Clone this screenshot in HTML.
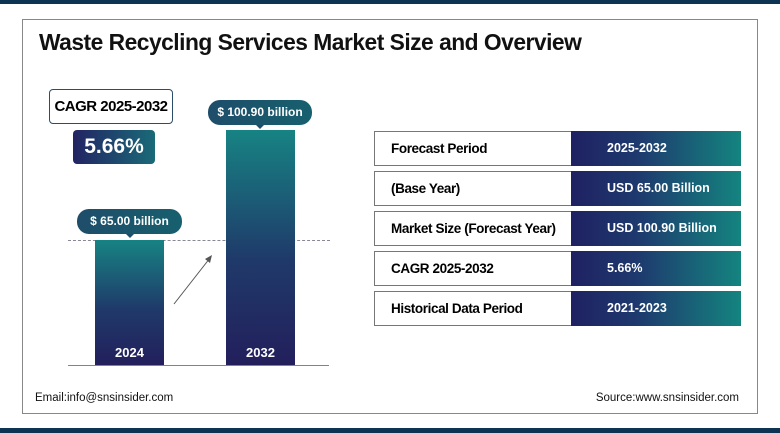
<!DOCTYPE html>
<html><head><style>
body{margin:0;width:780px;height:433px;background:#fff;position:relative;overflow:hidden;font-family:"Liberation Sans",Arial,sans-serif}
.a{position:absolute}
.bar{background:linear-gradient(#178383,#1f3a6a 55%,#231f5c)}
.pill{background:linear-gradient(90deg,#1e4d6a,#17606e);color:#fff;font-weight:bold;font-size:12px;text-align:center;border-radius:12px;line-height:25px}
.pill:after{content:"";position:absolute;left:50%;bottom:-4px;margin-left:-4px;border:4px solid transparent;border-bottom:0;border-top-color:#1e4d6a}
.row{position:absolute;left:374px;width:367px;height:35px}
.row .l{position:absolute;left:0;top:0;height:33px;border:1px solid #777;border-right:0;background:#fff;font-weight:bold;font-size:13.5px;line-height:33px;padding-left:16px;width:180px;letter-spacing:-0.4px}
.row .r{position:absolute;left:197px;top:0;right:0;height:35px;background:linear-gradient(90deg,#1f2162,#1e3a6e 40%,#14847f);color:#fff;font-weight:bold;font-size:12.5px;line-height:35px;padding-left:36px}
</style></head><body>
<div class="a" style="left:0;top:0;width:780px;height:4px;background:#0d3553"></div>
<div class="a" style="left:0;top:428px;width:780px;height:5px;background:#0d3553"></div>
<div class="a" style="left:22px;top:19px;width:734px;height:393px;border:1px solid #888"></div>
<div class="a" style="left:39px;top:29px;font-size:22.8px;font-weight:bold;color:#111;letter-spacing:-0.5px">Waste Recycling Services Market Size and Overview</div>
<div class="a" style="left:49px;top:89px;width:122px;height:33px;border:1px solid #2c4d6a;border-radius:4px;text-align:center;line-height:33px;font-weight:bold;font-size:15px;letter-spacing:-0.5px">CAGR 2025-2032</div>
<div class="a" style="left:73px;top:130px;width:82px;height:34px;border-radius:4px;background:linear-gradient(90deg,#222463,#1a6a78);color:#fff;font-weight:bold;font-size:21px;text-align:center;line-height:34px">5.66%</div>
<div class="a" style="left:68px;top:240px;width:262px;border-top:1px dashed #889"></div>
<div class="a" style="left:68px;top:365px;width:261px;height:1px;background:#5a8fb0"></div>
<div class="a bar" style="left:95px;top:240px;width:69px;height:125px"></div>
<div class="a bar" style="left:226px;top:130px;width:69px;height:235px"></div>
<div class="a" style="left:95px;top:345px;width:69px;text-align:center;color:#fff;font-weight:bold;font-size:13px">2024</div>
<div class="a" style="left:226px;top:345px;width:69px;text-align:center;color:#fff;font-weight:bold;font-size:13px">2032</div>
<div class="a pill" style="left:77px;top:209px;width:105px;height:25px">$ 65.00 billion</div>
<div class="a pill" style="left:208px;top:100px;width:104px;height:25px">$ 100.90 billion</div>
<svg class="a" style="left:170px;top:250px" width="50" height="58"><line x1="4" y1="54" x2="40" y2="8" stroke="#555" stroke-width="1"/><polygon points="42,5 35,9 40,13" fill="#555"/></svg>
<div class="row" style="top:131px"><div class="l">Forecast Period</div><div class="r">2025-2032</div></div>
<div class="row" style="top:171px"><div class="l">(Base Year)</div><div class="r">USD 65.00 Billion</div></div>
<div class="row" style="top:211px"><div class="l">Market Size (Forecast Year)</div><div class="r">USD 100.90 Billion</div></div>
<div class="row" style="top:251px"><div class="l">CAGR 2025-2032</div><div class="r">5.66%</div></div>
<div class="row" style="top:291px"><div class="l">Historical Data Period</div><div class="r">2021-2023</div></div>
<div class="a" style="left:35px;top:392px;font-size:11.5px;color:#111">Email:info@snsinsider.com</div>
<div class="a" style="right:41px;top:392px;font-size:11.5px;color:#111">Source:www.snsinsider.com</div>
</body></html>
